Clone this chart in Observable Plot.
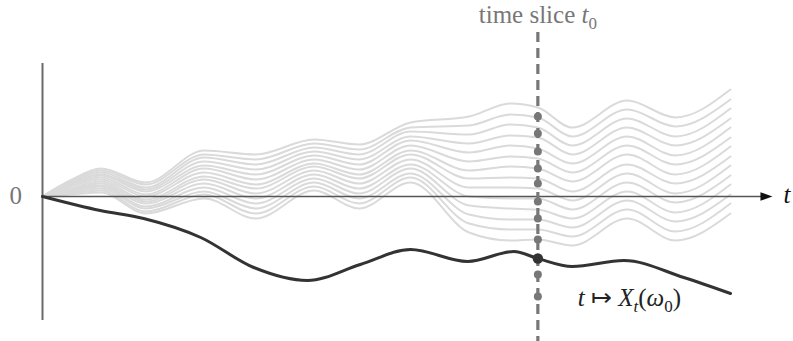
<!DOCTYPE html>
<html>
<head>
<meta charset="utf-8">
<script src="https://cdn.jsdelivr.net/npm/d3@7"></script>
<script src="https://cdn.jsdelivr.net/npm/@observablehq/plot@0.6"></script>
<style>
  html, body { margin: 0; padding: 0; background: #fff; }
  #chart svg { display: block; }
</style>
</head>
<body>
<div id="chart"></div>
<script>
// ---- data ----
const sampleT = [0, 0.04, 0.085, 0.15, 0.235, 0.31, 0.395, 0.46, 0.535, 0.62, 0.68, 0.72, 0.77, 0.85, 0.92, 1.0];

const path01 = [0, 1.6, 2.8, 1.4, 4.6, 4.2, 5.7, 5.2, 7.4, 8.0, 9.3, 8.9, 6.9, 9.6, 7.9, 10.7];
const path02 = [0, 1.5, 2.6, 1.2, 4.2, 3.7, 5.3, 4.7, 6.9, 7.1, 8.2, 7.9, 6.0, 8.7, 7.0, 9.7];
const path03 = [0, 1.4, 2.4, 0.9, 3.9, 3.2, 4.9, 4.2, 6.5, 6.2, 7.2, 6.9, 5.1, 7.8, 6.0, 8.8];
const path04 = [0, 1.3, 2.2, 0.7, 3.5, 2.7, 4.5, 3.7, 6.0, 5.3, 6.1, 5.9, 4.2, 6.9, 5.1, 7.8];
const path05 = [0, 1.2, 2.1, 0.5, 3.1, 2.2, 4.1, 3.2, 5.6, 4.4, 5.1, 4.8, 3.3, 6.0, 4.1, 6.9];
const path06 = [0, 1.1, 1.9, 0.2, 2.8, 1.7, 3.7, 2.7, 5.1, 3.5, 4.0, 3.8, 2.4, 5.1, 3.2, 5.9];
const path07 = [0, 1.0, 1.7, 0.0, 2.4, 1.2, 3.3, 2.2, 4.6, 2.6, 3.0, 2.8, 1.5, 4.2, 2.2, 5.0];
const path08 = [0, 0.8, 1.5, -0.3, 2.0, 0.8, 3.0, 1.8, 4.2, 1.8, 1.9, 1.8, 0.5, 3.2, 1.3, 4.0];
const path09 = [0, 0.7, 1.3, -0.5, 1.7, 0.3, 2.6, 1.3, 3.7, 0.9, 0.9, 0.8, -0.4, 2.3, 0.3, 3.1];
const path10 = [0, 0.6, 1.1, -0.7, 1.3, -0.2, 2.2, 0.8, 3.2, 0.0, -0.2, -0.2, -1.3, 1.4, -0.6, 2.1];
const path11 = [0, 0.5, 1.0, -1.0, 0.9, -0.7, 1.8, 0.3, 2.8, -0.9, -1.2, -1.3, -2.2, 0.5, -1.6, 1.2];
const path12 = [0, 0.4, 0.8, -1.2, 0.5, -1.2, 1.4, -0.2, 2.3, -1.8, -2.3, -2.3, -3.1, -0.4, -2.5, 0.2];
const path13 = [0, 0.3, 0.6, -1.5, 0.2, -1.7, 1.0, -0.7, 1.9, -2.7, -3.3, -3.3, -4.0, -1.3, -3.5, -0.7];
const path14 = [0, 0.2, 0.4, -1.7, -0.2, -2.2, 0.6, -1.2, 1.4, -3.6, -4.4, -4.3, -4.9, -2.2, -4.4, -1.7];

const highlightT = [0, 0.084, 0.147, 0.230, 0.307, 0.385, 0.462, 0.535, 0.618, 0.685, 0.72, 0.77, 0.845, 0.932, 1.0];
const highlightV = [0, -1.4, -2.2, -4.1, -7.1, -8.4, -6.8, -5.3, -6.5, -5.5, -6.2, -7.0, -6.4, -8.1, -9.7];

const t0 = 0.72;
const sliceGray = [8.0, 6.3, 4.5, 2.8, 1.3, -0.5, -2.2, -4.3, -7.8, -10.0];
const sliceHighlight = [-6.2];

const axisEnd = 1.061;

// ---- build tables ----
const paths = [path01, path02, path03, path04, path05, path06, path07, path08, path09, path10, path11, path12, path13, path14];
const grayRows = paths.flatMap((p, k) => p.map((v, i) => ({t: sampleT[i], v, id: k})));
const darkRows = highlightT.map((t, i) => ({t, v: highlightV[i]}));

const arrowHead = {
  draw(ctx) {
    ctx.moveTo(0, 0);
    ctx.lineTo(-12, -4.2);
    ctx.lineTo(-12, 4.2);
    ctx.closePath();
  }
};

const FAMILY = "Liberation Serif";

const chart = Plot.plot({
  width: 793,
  height: 341,
  margin: 0,
  x: {domain: [0, 1], range: [42, 730], axis: null},
  y: {domain: [0, 10], range: [196, 96], axis: null},
  marks: [
    Plot.line(grayRows, {x: "t", y: "v", z: "id", stroke: "#dadada", strokeWidth: 2, curve: "monotone-x"}),
    Plot.ruleX([0], {y1: 13.3, y2: -12.4, stroke: "#6a6a6a", strokeWidth: 2}),
    Plot.ruleY([0], {x1: 0, x2: axisEnd - 0.012, stroke: "#555", strokeWidth: 1.6}),
    Plot.dot([axisEnd], {x: d => d, y: 0, symbol: arrowHead, fill: "#111", stroke: "none"}),
    Plot.ruleX([t0], {y1: 16.4, y2: -14.6, stroke: "#777", strokeWidth: 3.2, strokeDasharray: "10,6"}),
    Plot.line(darkRows, {x: "t", y: "v", stroke: "#333", strokeWidth: 3, curve: "monotone-x"}),
    Plot.dot(sliceGray, {x: t0, y: d => d, r: 4, fill: "#777", stroke: "none"}),
    Plot.dot(sliceHighlight, {x: t0, y: d => d, r: 5.2, fill: "#333", stroke: "none"}),
    Plot.text(["ZERO"], {x: -0.039, y: -0.7, text: d => d, textAnchor: "middle", lineAnchor: "bottom", fontSize: 25, fontFamily: FAMILY, fill: "#777"}),
    Plot.text(["AXIS_T"], {x: 1.077, y: -0.6, text: d => d, textAnchor: "start", lineAnchor: "bottom", fontSize: 25, fontFamily: FAMILY, fill: "#111"}),
    Plot.text(["SLICE_LABEL"], {x: t0, y: 17.4, text: d => d, textAnchor: "middle", lineAnchor: "bottom", fontSize: 25, fontFamily: FAMILY, fill: "#777"}),
    Plot.text(["PATH_LABEL"], {x: 0.778, y: -10.9, text: d => d, textAnchor: "start", lineAnchor: "bottom", fontSize: 25, fontFamily: FAMILY, fill: "#222"})
  ]
});

// ---- rich text (italic math, subscripts) ----
const NS = "http://www.w3.org/2000/svg";
function rich(svg, key, parts) {
  svg.querySelectorAll("text").forEach(el => {
    if (el.textContent !== key) return;
    el.textContent = "";
    let shifted = 0;
    for (const p of parts) {
      const ts = document.createElementNS(NS, "tspan");
      ts.textContent = p.s;
      if (p.it) ts.setAttribute("font-style", "italic");
      const want = p.sub ? 6 : 0;
      if (want !== shifted) { ts.setAttribute("dy", want - shifted); shifted = want; }
      if (p.sub) ts.setAttribute("font-size", "17");
      el.appendChild(ts);
    }
  });
}
rich(chart, "ZERO", [{s: "0"}]);
rich(chart, "AXIS_T", [{s: "t", it: true}]);
rich(chart, "SLICE_LABEL", [{s: "time slice "}, {s: "t", it: true}, {s: "0", sub: true}]);
rich(chart, "PATH_LABEL", [
  {s: "t", it: true}, {s: " \u21A6 "}, {s: "X", it: true}, {s: "t", it: true, sub: true},
  {s: "("}, {s: "\u03C9", it: true}, {s: "0", sub: true}, {s: ")"}
]);

document.getElementById("chart").appendChild(chart);
</script>
</body>
</html>
